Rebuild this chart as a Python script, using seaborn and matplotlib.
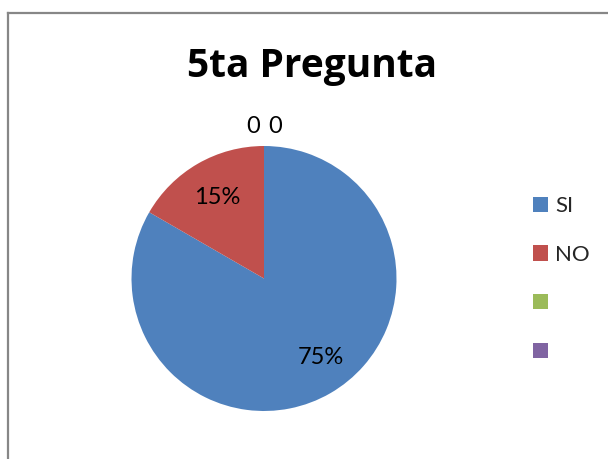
import numpy as np
import matplotlib
matplotlib.use("Agg")
import matplotlib.pyplot as plt
import seaborn as sns
from matplotlib.patches import Patch

# ── Data ──────────────────────────────────────────────
categories = ["SI", "NO", "", ""]
values = [75, 15, 0, 0]
value_labels = ["75%", "15%", "0", "0"]
colors = ["#4F81BD", "#C0504D", "#9BBB59", "#8064A2"]
title = "5ta Pregunta"

sns.set_style("white")
plt.rcParams["font.family"] = ["Lato", "DejaVu Sans"]

W, H = 608, 459
fig = plt.figure(figsize=(W / 100, H / 100), dpi=100)

# chart area border: an empty axes whose left/top spines are the frame
frame = fig.add_axes([8 / W, -0.1, 1.0, 1.1 - 13 / H], zorder=0)
frame.set_xticks([])
frame.set_yticks([])
frame.patch.set_alpha(0)
for side in ["left", "top"]:
    frame.spines[side].set_color("#878787")
    frame.spines[side].set_linewidth(1.6)
for side in ["right", "bottom"]:
    frame.spines[side].set_visible(False)

# pie axes placed in pixel terms (center / radius)
cx, cy, r = 264, 278.5, 132.5
ax = fig.add_axes([(cx - r) / W, (H - cy - r) / H, 2 * r / W, 2 * r / H], zorder=1)
wedges, _ = ax.pie(values, colors=colors, startangle=90, counterclock=False,
                   radius=1, wedgeprops=dict(linewidth=0))
ax.set_xlim(-1, 1)
ax.set_ylim(-1, 1)
ax.axis("off")

# ── Data labels ───────────────────────────────────────
# excel nudges the big slice label a bit to the right
inside_nudge = {0: (10, 2), 1: (0, 0)}
zero_idx = [i for i, v in enumerate(values) if v == 0]
for i, (w, lab, v) in enumerate(zip(wedges, value_labels, values)):
    ang = np.deg2rad((w.theta1 + w.theta2) / 2)
    if v > 0:
        ax.annotate(lab, xy=(0.71 * np.cos(ang), 0.71 * np.sin(ang)),
                    xytext=inside_nudge.get(i, (0, 0)), textcoords="offset pixels",
                    ha="center", va="center", fontsize=17, color="black")
    else:
        k = zero_idx.index(i) - (len(zero_idx) - 1) / 2
        ax.annotate(lab, xy=(1.155 * np.cos(ang), 1.155 * np.sin(ang)),
                    xytext=(k * 22, -1), textcoords="offset pixels",
                    ha="center", va="center", fontsize=17, color="black",
                    annotation_clip=False)

# ── Title ─────────────────────────────────────────────
fig.text(312 / W, 1 - 77 / H, title, ha="center", va="baseline",
         fontsize=28, fontweight="bold", color="black",
         family=["Open Sans", "DejaVu Sans"])

# ── Legend ────────────────────────────────────────────
handles = [Patch(facecolor=c, edgecolor="none") for c in colors]
fig.legend(handles, categories, loc="center left",
           bbox_to_anchor=(533 / W, 1 - 279 / H), bbox_transform=fig.transFigure,
           frameon=False, fontsize=16, handlelength=0.68, handleheight=0.68,
           handletextpad=0.32, labelspacing=1.29, borderpad=0, borderaxespad=0)

fig.savefig("out.png", dpi=100)
